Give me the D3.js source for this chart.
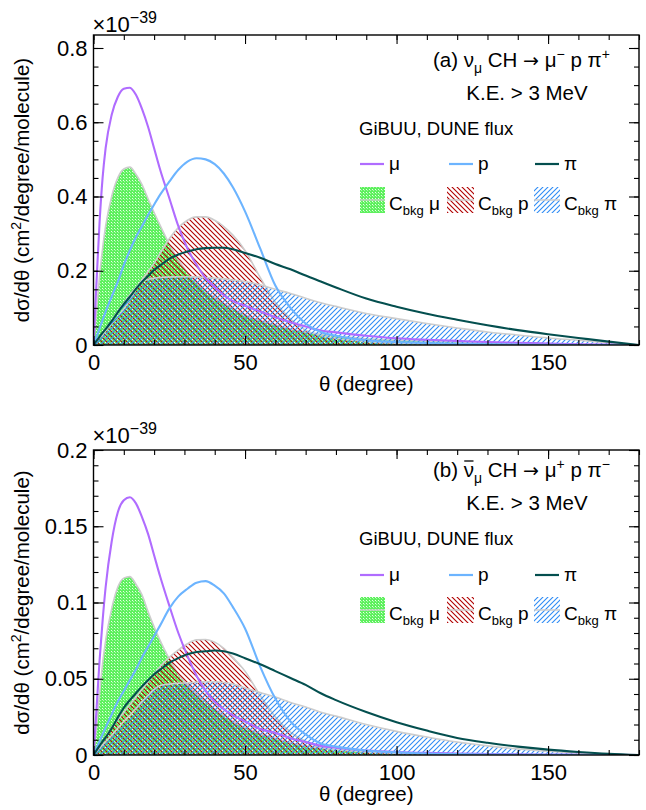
<!DOCTYPE html>
<html><head><meta charset="utf-8">
<script src="https://cdn.jsdelivr.net/npm/d3@7"></script>
<style>body{margin:0;background:#fff} text{font-family:"Liberation Sans",Arial,Helvetica,sans-serif;fill:#000}</style>
</head><body><svg id="c" width="646" height="810"></svg>
<script>
// ---------- data ----------
const theta = [0,1,2,3,4,6,8,10,12,14,16,18,20,22,25,28,31,34,37,40,43,46,50,55,60,65,70,75,80,90,100,110,120,130,140,150,160,170,180];

// panel (a): nu_mu CH -> mu- p pi+
const aMu    = [0,0.17,0.33,0.45,0.53,0.62,0.668,0.69,0.693,0.674,0.636,0.588,0.53,0.472,0.396,0.32,0.26,0.216,0.18,0.156,0.134,0.118,0.106,0.09,0.075,0.061,0.05,0.039,0.034,0.025,0.018,0.014,0.011,0.008,0.006,0.004,0.002,0.001,0];
const aP     = [0,0.022,0.045,0.067,0.09,0.13,0.17,0.215,0.255,0.29,0.32,0.35,0.378,0.405,0.44,0.472,0.494,0.503,0.5,0.487,0.462,0.425,0.36,0.26,0.16,0.1,0.058,0.035,0.025,0.013,0.008,0.005,0.003,0.002,0.001,0.0005,0,0,0];
const aPi    = [0,0.011,0.022,0.033,0.043,0.064,0.088,0.11,0.13,0.151,0.17,0.186,0.202,0.214,0.232,0.244,0.252,0.258,0.261,0.262,0.262,0.258,0.248,0.235,0.218,0.204,0.187,0.171,0.155,0.125,0.103,0.084,0.068,0.053,0.04,0.029,0.019,0.009,0];
const aBkgMu = [0,0.09,0.185,0.26,0.32,0.4,0.45,0.474,0.479,0.46,0.432,0.394,0.357,0.322,0.272,0.229,0.195,0.168,0.145,0.128,0.112,0.098,0.08,0.066,0.054,0.043,0.035,0.029,0.024,0.017,0.013,0.01,0.008,0.006,0.004,0.003,0.0015,0.0007,0];
const aBkgP  = [0,0.009,0.019,0.028,0.038,0.057,0.075,0.097,0.122,0.15,0.175,0.198,0.22,0.247,0.286,0.316,0.336,0.345,0.345,0.336,0.319,0.296,0.255,0.182,0.115,0.07,0.04,0.025,0.018,0.009,0.005,0.003,0.002,0.001,0.0007,0.0003,0,0,0];
const aBkgPi = [0,0.011,0.022,0.033,0.044,0.066,0.09,0.113,0.135,0.155,0.17,0.177,0.18,0.182,0.183,0.184,0.184,0.183,0.182,0.18,0.178,0.175,0.171,0.162,0.15,0.139,0.126,0.114,0.104,0.085,0.071,0.058,0.046,0.035,0.027,0.019,0.013,0.006,0];

// panel (b): anti-nu_mu CH -> mu+ p pi-
const bMu    = [0,0.03,0.062,0.088,0.11,0.14,0.159,0.167,0.169,0.165,0.156,0.145,0.131,0.117,0.098,0.08,0.065,0.052,0.042,0.035,0.03,0.026,0.022,0.017,0.0145,0.011,0.0085,0.006,0.0048,0.003,0.002,0.0014,0.001,0.0007,0.0005,0.0003,0.0002,0.0001,0];
const bP     = [0,0.0045,0.009,0.0135,0.018,0.0265,0.035,0.042,0.049,0.056,0.064,0.071,0.078,0.085,0.096,0.104,0.109,0.113,0.114,0.111,0.106,0.097,0.083,0.058,0.037,0.022,0.0135,0.0075,0.0055,0.003,0.0018,0.001,0.0006,0.0003,0.0002,0.0001,0,0,0];
const bPi    = [0,0.003,0.006,0.009,0.0115,0.0175,0.0245,0.031,0.036,0.0405,0.045,0.049,0.053,0.056,0.0605,0.0635,0.066,0.0675,0.068,0.0685,0.068,0.0665,0.0635,0.0595,0.055,0.0505,0.046,0.0405,0.036,0.0282,0.0215,0.016,0.0112,0.008,0.0055,0.0035,0.002,0.0008,0];
const bBkgMu = [0,0.018,0.04,0.06,0.075,0.096,0.11,0.116,0.117,0.112,0.105,0.094,0.084,0.075,0.063,0.053,0.046,0.04,0.035,0.03,0.026,0.022,0.018,0.014,0.011,0.008,0.006,0.0045,0.0035,0.0022,0.0014,0.001,0.0007,0.0005,0.0003,0.0002,0.0001,0,0];
const bBkgP  = [0,0.003,0.006,0.009,0.012,0.018,0.023,0.028,0.033,0.038,0.043,0.048,0.053,0.058,0.064,0.069,0.073,0.0755,0.0757,0.074,0.07,0.064,0.055,0.039,0.025,0.015,0.009,0.005,0.0035,0.002,0.0012,0.0007,0.0004,0.0002,0.0001,0,0,0,0];
const bBkgPi = [0,0.0022,0.0044,0.0066,0.0088,0.013,0.0175,0.022,0.026,0.0305,0.035,0.039,0.043,0.0455,0.0465,0.047,0.0473,0.0477,0.048,0.048,0.0475,0.0465,0.044,0.041,0.038,0.0345,0.0315,0.028,0.0255,0.02,0.0155,0.0118,0.0085,0.006,0.004,0.0025,0.0013,0.0005,0];

const xMajor = [0,50,100,150];
const aYMajor = [0,0.2,0.4,0.6,0.8];
const bYMajor = [0,0.05,0.1,0.15,0.2];

// ---------- drawing ----------
const svg = d3.select("#c");
const COL = {mu:"#b06cff", p:"#6cb4ff", pi:"#044f4f", grey:"#cdcdcd"};
const xL = 93.5, xR = 639;
const x = d3.scaleLinear().domain([0,180]).range([xL,xR]);

const defs = svg.append("defs");
// green checker
const gp = defs.append("pattern").attr("id","pg").attr("patternUnits","userSpaceOnUse").attr("width",3).attr("height",3);
gp.append("rect").attr("width",3).attr("height",3).attr("fill","#5ef05e").attr("shape-rendering","crispEdges");
gp.append("rect").attr("width",1).attr("height",1).attr("fill","#e6ffe6").attr("shape-rendering","crispEdges");
gp.append("rect").attr("x",1).attr("y",1).attr("width",1).attr("height",1).attr("fill","#a8f8a8").attr("shape-rendering","crispEdges");
// red "\" hatch
const rp = defs.append("pattern").attr("id","pr").attr("patternUnits","userSpaceOnUse").attr("width",5).attr("height",5);
rp.append("path").attr("d","M0,0L5,5M-1,4L1,6M4,-1L6,1").attr("stroke","#b00000").attr("stroke-width",1.1).attr("fill","none");
// blue "/" hatch
const bp = defs.append("pattern").attr("id","pb").attr("patternUnits","userSpaceOnUse").attr("width",5).attr("height",5);
bp.append("path").attr("d","M0,5L5,0M-1,1L1,-1M4,6L6,4").attr("stroke","#2f8cf5").attr("stroke-width",1.1).attr("fill","none");

const panels = [
  {key:"a", top:35, bottom:345, yMax:0.835, yMajor:aYMajor, yMinor:0.05,
   mu:aMu, p:aP, pi:aPi, bmu:aBkgMu, bp:aBkgP, bpi:aBkgPi,
   expY:32, headY:67, keY:100, gibY:135, legY:164, boxY:187, boxLabY:210, xTitleY:391,
   head:["(a) ν","μ"," CH ","→"," μ","−"," p π","+"]},
  {key:"b", top:450, bottom:755, yMax:0.2, yMajor:bYMajor, yMinor:0.01,
   mu:bMu, p:bP, pi:bPi, bmu:bBkgMu, bp:bBkgP, bpi:bBkgPi,
   expY:443, headY:477, keY:510, gibY:545, legY:575, boxY:597, boxLabY:620, xTitleY:801,
   head:["(b) ν","μ"," CH ","→"," μ","+"," p π","−"]}
];

panels.forEach((P,pi)=>{
  const y = d3.scaleLinear().domain([0,P.yMax]).range([P.bottom,P.top]);
  const g = svg.append("g");
  const clipId = "clip"+P.key;
  defs.append("clipPath").attr("id",clipId).append("rect")
    .attr("x",xL).attr("y",P.top).attr("width",xR-xL).attr("height",P.bottom-P.top);
  const plot = g.append("g").attr("clip-path",`url(#${clipId})`);

  const area = d3.area().x((d,i)=>x(theta[i])).y0(y(0)).y1(d=>y(d)).curve(d3.curveMonotoneX);
  const line = d3.line().x((d,i)=>x(theta[i])).y(d=>y(d)).curve(d3.curveMonotoneX);

  [[P.bmu,"url(#pg)"],[P.bp,"url(#pr)"],[P.bpi,"url(#pb)"]].forEach(([s,f])=>{
    plot.append("path").datum(s).attr("d",area).attr("fill",f).attr("stroke","none");
    plot.append("path").datum(s).attr("d",line).attr("fill","none").attr("stroke",COL.grey).attr("stroke-width",1.6);
  });
  [[P.mu,COL.mu],[P.p,COL.p],[P.pi,COL.pi]].forEach(([s,c])=>{
    plot.append("path").datum(s).attr("d",line).attr("fill","none").attr("stroke",c).attr("stroke-width",2.1);
  });

  // axes (ticks inside)
  const yMinor = d3.range(0, P.yMax+1e-9, P.yMinor);
  const xMinor = d3.range(0,181,10);
  const fmt = d=> d===0 ? "0" : String(+d.toFixed(3));
  const styleAx = sel => { sel.select(".domain").remove(); sel.selectAll("line").attr("stroke","#000").attr("stroke-width",1.1); sel.selectAll("text").attr("font-size",22).attr("font-family",'"Liberation Sans",Arial,sans-serif').attr("fill","#000"); };
  g.append("g").attr("transform",`translate(${xL},0)`).call(d3.axisLeft(y).tickValues(P.yMajor).tickSize(-10).tickPadding(6).tickFormat(fmt)).call(styleAx);
  g.append("g").attr("transform",`translate(${xL},0)`).call(d3.axisLeft(y).tickValues(yMinor).tickSize(-5).tickFormat("")).call(styleAx);
  g.append("g").attr("transform",`translate(${xR},0)`).call(d3.axisRight(y).tickValues(P.yMajor).tickSize(-10).tickFormat("")).call(styleAx);
  g.append("g").attr("transform",`translate(${xR},0)`).call(d3.axisRight(y).tickValues(yMinor).tickSize(-5).tickFormat("")).call(styleAx);
  g.append("g").attr("transform",`translate(0,${P.bottom})`).call(d3.axisBottom(x).tickValues(xMajor).tickSize(-9).tickPadding(9).tickFormat(d3.format("d"))).call(styleAx);
  g.append("g").attr("transform",`translate(0,${P.bottom})`).call(d3.axisBottom(x).tickValues(xMinor).tickSize(-5).tickFormat("")).call(styleAx);
  g.append("g").attr("transform",`translate(0,${P.top})`).call(d3.axisTop(x).tickValues(xMajor).tickSize(-9).tickFormat("")).call(styleAx);
  g.append("g").attr("transform",`translate(0,${P.top})`).call(d3.axisTop(x).tickValues(xMinor).tickSize(-5).tickFormat("")).call(styleAx);

  g.append("rect").attr("x",xL).attr("y",P.top).attr("width",xR-xL).attr("height",P.bottom-P.top)
    .attr("fill","none").attr("stroke","#000").attr("stroke-width",1.4);

  // exponent
  const ex = g.append("text").attr("x",xL-1).attr("y",P.expY).attr("font-size",22);
  ex.append("tspan").text("×10");
  ex.append("tspan").attr("font-size",16).attr("dy",-9).text("−39");

  // axis titles
  g.append("text").attr("x",(xL+xR)/2).attr("y",P.xTitleY).attr("text-anchor","middle").attr("font-size",20.5).text("θ (degree)");
  const yt = g.append("text").attr("transform",`translate(29,${(P.top+P.bottom)/2}) rotate(-90)`).attr("text-anchor","middle").attr("font-size",20.5);
  yt.append("tspan").text("dσ/dθ (cm");
  yt.append("tspan").attr("font-size",14).attr("dy",-8).text("2");
  yt.append("tspan").attr("dy",8).text("/degree/molecule)");

  // header
  const h = g.append("text").attr("x",433).attr("y",P.headY).attr("font-size",20.5);
  h.append("tspan").text(P.head[0]);
  h.append("tspan").attr("font-size",14).attr("dy",6).text(P.head[1]);
  h.append("tspan").attr("dy",-6).text(P.head[2]);
  h.append("tspan").attr("font-family","DejaVu Sans").attr("font-size",19).text(P.head[3]);
  h.append("tspan").text(P.head[4]);
  h.append("tspan").attr("font-size",14).attr("dy",-8).text(P.head[5]);
  h.append("tspan").attr("dy",8).text(P.head[6]);
  h.append("tspan").attr("font-size",14).attr("dy",-8).text(P.head[7]);
  if (P.key==="b") {
    const e = h.node().getExtentOfChar(4);
    g.append("line").attr("x1",e.x+0.5).attr("x2",e.x+e.width-0.5).attr("y1",e.y+3).attr("y2",e.y+3)
      .attr("stroke","#000").attr("stroke-width",1.3);
  }
  g.append("text").attr("x",527).attr("y",P.keY).attr("text-anchor","middle").attr("font-size",20.5).text("K.E. > 3 MeV");
  g.append("text").attr("x",359).attr("y",P.gibY).attr("font-size",18.5).text("GiBUU, DUNE flux");

  // legend lines
  const legL = [{x:360,c:COL.mu,t:"μ"},{x:449,c:COL.p,t:"p"},{x:535,c:COL.pi,t:"π"}];
  legL.forEach(d=>{
    g.append("line").attr("x1",d.x).attr("x2",d.x+24).attr("y1",P.legY).attr("y2",P.legY).attr("stroke",d.c).attr("stroke-width",2.2);
    g.append("text").attr("x",d.x+29).attr("y",P.legY+6).attr("font-size",19).text(d.t);
  });
  const legB = [{x:360,w:25,f:"url(#pg)",t:"μ"},{x:447,w:27,f:"url(#pr)",t:"p"},{x:534,w:26,f:"url(#pb)",t:"π"}];
  legB.forEach(d=>{
    g.append("rect").attr("x",d.x).attr("y",P.boxY).attr("width",d.w).attr("height",26).attr("fill",d.f);
    g.append("line").attr("x1",d.x).attr("x2",d.x+d.w).attr("y1",P.boxY+13).attr("y2",P.boxY+13).attr("stroke",COL.grey).attr("stroke-width",1.4);
    const t = g.append("text").attr("x",d.x+d.w+4).attr("y",P.boxLabY).attr("font-size",19);
    t.append("tspan").text("C");
    t.append("tspan").attr("font-size",13).attr("dy",5).text("bkg");
    t.append("tspan").attr("dy",-5).text(" "+d.t);
  });
});
</script></body></html>
